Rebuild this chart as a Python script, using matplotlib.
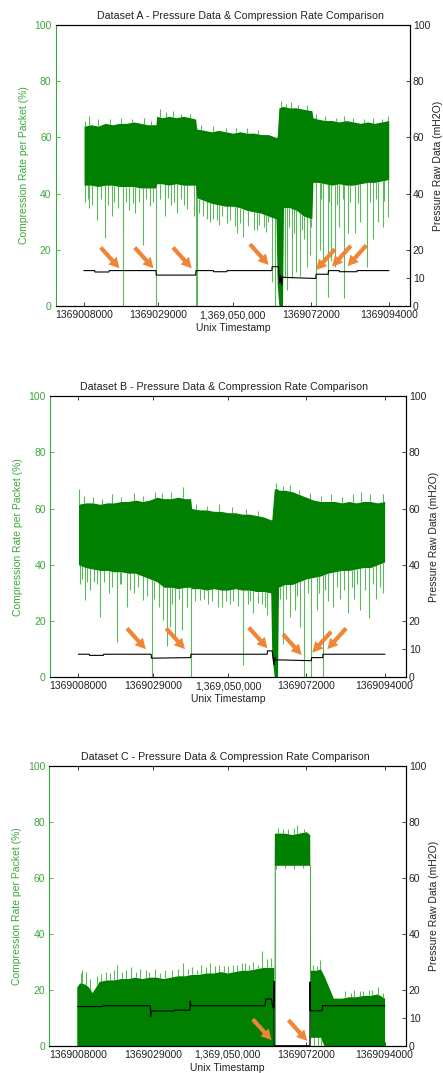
import numpy as np
import matplotlib
matplotlib.use('Agg')
import matplotlib.pyplot as plt

plt.rcParams['font.family'] = ['Liberation Sans', 'DejaVu Sans']
plt.rcParams['font.size'] = 7.5

T0 = 1369000000  # times below are in thousands of seconds after T0
xtick_vals = [1369008000, 1369029000, 1369050000, 1369072000, 1369094000]
xtick_labels = ['1369008000', '1369029000', '1,369,050,000', '1369072000', '1369094000']
left_ticks = [0, 20, 40, 60, 80, 100]
right_ticks = [0, 10, 20, 40, 60, 80, 100]

# ---------------- Dataset A ----------------
A_env_t = [8, 10, 12, 14, 16, 18, 20, 22, 24, 26, 28.3, 28.5, 30, 32, 34, 36, 38, 39.5, 39.8,
           42, 44, 46, 48, 50, 52, 54, 56, 58, 60, 62.2, 62.5, 63.0, 64.0, 64.3, 66, 68, 70,
           72.3, 72.6, 74, 76, 78, 80, 82, 84, 86, 88, 90, 92, 94]
A_hi = [64, 64.5, 64, 65, 64.5, 65, 65, 65.5, 65, 64.5, 64.5, 67.5, 67, 67.5, 67, 67.5, 67, 66.5, 63,
        62.5, 62, 62.5, 62, 61.5, 62, 61.5, 61.5, 61, 61, 60, 60, 70.5, 71, 71, 70.5, 70.5, 70,
        69.5, 67, 66.5, 66, 66, 65.5, 66, 65.5, 65, 65.5, 65, 65.5, 66]
A_lo = [43, 43, 42.5, 43, 43, 42.5, 42.5, 42.5, 42, 42, 42, 43.5, 43.5, 43, 43.5, 43, 43, 43, 38.5,
        37.5, 36.5, 36, 35.5, 35.5, 35, 34, 33.5, 33, 32, 31, 8, 0, 0, 35, 35, 34, 32,
        31, 44, 44, 43.5, 43, 43.5, 43, 43, 43.5, 44, 44, 44.5, 45]
A_up_t = [8.2, 9.5, 12, 15.3, 18.5, 21.5, 25, 27, 29.5, 31, 33, 35.5, 38, 41, 44.5, 48, 51, 54, 57,
          63.5, 65, 66.5, 68.5, 71, 73.5, 76, 79, 81.5, 84, 87, 89.5, 92, 93.8]
A_up_v = [66, 67.5, 66.5, 66.5, 67, 66.5, 67, 66, 70, 69, 69.5, 68.5, 68.5, 64.5, 64, 63.5, 63.5, 63.5, 62.5,
          73, 72, 72.5, 71.5, 71.5, 68.5, 67.5, 67, 67.5, 67, 66.5, 67, 66.5, 67.5]
A_dn_t = [8.2, 9.0, 9.5, 10.3, 11.6, 12.8, 13.9, 14.8, 15.8, 16.5, 17.5, 18.9, 19.1, 19.8, 20.8,
          21.7, 22.5, 23.5, 24.7, 25.6, 26.6, 27.5, 28.3, 29.5, 30.9, 31.7, 32.5, 33.3, 34.2, 35.5,
          36.3, 37, 38.9, 39.5, 39.8, 40.5, 41.7, 42.6, 43.5, 44.3, 45.5, 46.2, 47, 48.3, 49.3,
          50.7, 51.1, 52.1, 53, 54.2, 55.9, 56.8, 57.5, 58.8, 59.4, 60, 61, 61.8, 62, 64.8, 65.4,
          65.8, 66.6, 67.2, 67.9, 68.9, 69.5, 70.2, 70.8, 71.8, 72, 73.5, 74.5, 75, 75.5, 76.8,
          77, 77.8, 78.9, 79.5, 80, 81, 81.4, 82.5, 83.2, 84.4, 85.3, 86, 87.9, 88.7, 89.5, 90.3,
          91, 92.5, 92.8, 93.8]
A_dn_v = [37, 38, 35, 36, 30.5, 38, 24.2, 36, 32, 37, 35, 26, 0, 37, 34,
          36.5, 33, 37, 21.7, 38, 35.5, 37, 0, 38, 32, 38.5, 36, 37, 33, 38,
          36, 34.4, 32, 0, 0, 33, 32, 31, 30, 31, 30.6, 29, 32, 29.4, 30.5,
          28.3, 26, 29.5, 24.5, 28.5, 27, 27, 29, 28, 26.5, 30, 8.6, 0, 20, 10, 5.7,
          28, 10, 26, 12, 10.7, 27, 24, 14, 18, 28, 0, 20, 38, 15, 3.3,
          37, 16, 14, 36, 28, 38, 2.8, 26, 37, 26, 36.5, 30, 14, 37, 24, 38,
          30, 28, 37.5, 31.8]
A_p_t = [8, 11, 11.1, 15, 15.1, 28.3, 28.4, 39.5, 39.6, 44.5, 44.6, 48.3, 48.4, 61, 61.1,
         62.9, 63.0, 63.3, 63.5, 63.8, 64.0, 64.3, 73.4, 73.5, 76.9, 77.0, 80, 80.1, 85, 85.1, 94]
A_p_v = [12.6, 12.6, 12.1, 12.1, 12.6, 12.6, 11.0, 11.0, 12.6, 12.6, 12.2, 12.2, 12.6, 12.6, 14.0,
         14.0, 10.5, 8, 11, 7.5, 10.5, 10.2, 9.8, 11.3, 11.3, 12.6, 12.6, 12.2, 12.2, 12.6, 12.6]
A_arrow_t = [18.0, 27.6, 38.4, 60.1, 73.5, 78.0, 82.4]
A_arrow_v = [13.4, 13.4, 13.4, 14.6, 12.8, 14.0, 14.2]
A_arrow_side = [-1, -1, -1, -1, 1, 1, 1]

# ---------------- Dataset B ----------------
B_env_t = [8, 10, 12, 14, 16, 18, 20, 22, 24, 26, 28, 30, 32, 34, 36, 38, 39.5, 39.8,
           42, 44, 46, 48, 50, 52, 54, 56, 58, 60, 62.0, 62.3, 63.0, 63.9, 64.2,
           66, 68, 70, 72, 74, 76, 78, 80, 82, 84, 86, 88, 90, 92, 94]
B_hi = [61.5, 62, 62, 61.5, 62, 62, 62.5, 62.5, 63, 62.5, 63, 64, 63.5, 63.5, 64, 63.5, 63.5, 60,
        59.5, 59.5, 59, 59, 58.5, 58.5, 58, 58, 57.5, 57, 56, 56, 67, 67, 66.5,
        66.5, 66, 65, 64, 63, 62.5, 62.5, 62.5, 62, 62.5, 62, 62.5, 62.5, 62, 62.5]
B_lo = [40, 39, 38.5, 38, 38, 37.5, 37.5, 37, 37, 36, 35, 34, 32, 32, 31.5, 32, 32, 31.5,
        31.5, 31, 31.5, 31, 31, 31.5, 31, 31, 30.5, 30.5, 30, 8, 0, 0, 32,
        33, 33, 34, 35, 35.5, 36, 37, 37.5, 38, 38, 38.5, 39, 39, 40, 41]
B_up_t = [8.2, 9.5, 12, 14.5, 17.5, 20, 23.5, 26, 29.5, 31.5, 34, 37.3, 41, 44, 47.5, 51, 55, 58.5,
          63.5, 65.5, 67.5, 70, 73, 76, 79, 82, 85, 87.5, 90, 93.5]
B_up_v = [67, 64.5, 64, 63.5, 65, 64, 65.5, 64.5, 66, 65.5, 66, 67.7, 61.5, 61, 61.5, 60.5, 60, 59,
          69, 68, 68.5, 66.5, 65.5, 64.5, 65, 64, 65, 66, 65, 65]
B_dn_t = [8.5, 9.0, 9.8, 10.5, 11.2, 12.5, 13.2, 14, 15.3, 16.5, 17.3, 18.9, 19.6, 20, 21.5, 22.4,
          23.5, 24.8, 26.2, 27.2, 28.6, 29.3, 30.5, 31.8, 32.8, 33.7, 34.4, 35.1, 36.2, 37, 38.5,
          39.5, 40.7, 42.1, 43.2, 44.5, 45.6, 47.3, 48.4, 49.5, 50.5, 51.5, 52.8, 54.1, 55.5,
          56.3, 57.1, 58.3, 59.5, 60.3, 61, 63.2, 64.7, 65.5, 66.4, 67.4, 68.8, 69.5, 70.2, 71.4,
          72.5, 73.3, 74.9, 75.6, 76.6, 77.2, 78, 79.6, 80.5, 81.5, 82.6, 83.8, 84.7, 85.5, 86.3,
          87.1, 88.4, 89.7, 90.6, 91.5, 92.6, 93.6]
B_dn_v = [33, 35, 27.5, 34, 31, 34, 33, 21.6, 34, 30, 32, 12.7, 33, 33, 25, 31,
          30, 32, 27.5, 29, 0, 28, 25, 20.4, 11, 18, 26, 14.5, 28, 16.8, 25,
          0, 27, 27.5, 28, 26, 27, 25, 25, 27, 26, 27, 25.5, 4.4, 26,
          27, 22.7, 26.5, 26, 25, 22, 0, 28, 12, 28, 21.6, 24, 29, 18, 0,
          30, 0, 24, 30, 0, 31, 27, 25, 32, 28, 31, 22.7, 32, 28, 33,
          24, 31, 21, 33, 28, 32, 30]
B_p_t = [8, 11, 11.1, 15, 15.1, 28.4, 28.5, 39.5, 39.6, 61.0, 61.1, 62.4, 62.6, 62.9, 63.2, 63.5,
         64.0, 73.4, 73.5, 76.6, 76.7, 94]
B_p_v = [8.2, 8.2, 7.8, 7.8, 8.2, 8.2, 6.8, 7.0, 8.2, 8.2, 9.4, 9.4, 7.5, 4.5, 7.0, 6.0,
         6.2, 5.9, 7.0, 7.0, 8.2, 8.2]
B_arrow_t = [26.9, 37.9, 61.1, 70.7, 73.7, 77.9]
B_arrow_v = [10.0, 10.0, 10.3, 7.9, 8.8, 10.0]
B_arrow_side = [-1, -1, -1, -1, 1, 1]

# ---------------- Dataset C ----------------
C_env_t = [7.7, 8.5, 10, 11, 12, 13, 14, 16, 18, 20, 22, 24, 26, 28, 30, 32, 34, 36, 38, 40, 42,
           44, 46, 48, 50, 52, 54, 56, 58, 60, 62, 62.9, 63.1, 64, 66, 68, 70, 72, 73.0, 73.2,
           74, 75, 76, 77, 78, 79, 79.6, 80.5, 82, 84, 86, 88, 90, 92, 94]
C_hi = [21, 22.5, 22, 21, 19, 21, 23, 23.5, 23.5, 24, 24, 24.5, 24, 24.5, 24.5, 24, 24.5, 25, 25,
        25.5, 25.5, 26, 26, 26.5, 26, 26.5, 27, 27, 27.5, 28, 28, 28, 76, 76, 76, 75.5, 76, 76.5,
        75.5, 27, 27, 27, 27.5, 25, 22, 19, 17, 17, 17, 17.5, 17.5, 18, 18, 18.5, 17]
C_lo = [0] * 32 + [64.5] * 7 + [3, 3, 3, 3] + [0] * 12
C_up_t = [8.8, 9.3, 10.2, 11.5, 13.5, 14.5, 16, 17, 18, 19, 20.5, 21.5, 23, 24.2, 25.5, 27, 28,
          29.5, 31, 32.5, 34.5, 36, 37.6, 39, 40, 41.5, 42.5, 44, 45, 46.5, 47.5, 49, 50, 51.5,
          52.5, 54, 55, 56, 57, 58.5, 59.7, 61, 62.2, 64, 65.5, 67, 68.5, 69.5, 71.5, 74, 75,
          76, 83, 84.5, 85.5, 87, 88, 89.5, 90.5, 92.2, 93.5]
C_up_v = [26, 27, 26.5, 24, 25, 25.5, 26.5, 26, 27, 29, 26.5, 27, 28, 26.5, 27.5, 27, 26.5,
          27.5, 26, 27, 27, 27.5, 29.4, 27.5, 28, 27, 29, 28, 29.5, 28.5, 29, 28.5, 28.5, 29,
          29, 29.5, 29.5, 29, 30, 29, 34, 31, 31.5, 78, 77.5, 77.5, 78, 79, 77.5, 29, 28.5,
          30.6, 19.5, 19, 20, 19.5, 19.5, 20, 20, 21, 19]
C_dn_t = [63.2, 63.5, 66, 68.5, 71, 72.95, 74.2, 75.4, 76.3, 80.8]
C_dn_v = [0, 63, 63.5, 63, 63.5, 0, 0, 0, 0, 5]
C_p_t = [8, 15, 15.1, 28.3, 28.4, 28.6, 35, 35.1, 39.4, 39.5, 39.7, 58, 60.5, 60.7, 62.3, 62.6,
         62.9, 63.0, 63.05, 73.05, 73.1, 73.15, 73.3, 76.5, 76.6, 94]
C_p_v = [14.0, 14.0, 14.3, 14.3, 10.4, 12.4, 12.4, 12.7, 12.7, 16, 14.3, 14.3, 14.3, 16.7, 16.7, 14,
         13.5, 23, 0, 0, 22.8, 12.5, 12.5, 12.5, 14.3, 14.3]
C_arrow_t = [62.3, 72.3]
C_arrow_v = [2.0, 1.7]
C_arrow_side = [-1, -1]

GREEN = '#007f00'
LIGHT = '#5cb85c'
AXGREEN = '#3aa83a'
ORANGE = '#ef8535'
W, H = 443, 1073


def ts(k):
    return T0 + np.asarray(k, dtype=float) * 1000


def panel(rect, title, title_x, env_t, hi, lo, up_t, up_v, dn_t, dn_v,
          p_t, p_v, ar_t, ar_v, ar_side, top_ticks):
    l, t, r, b = rect
    ax = fig.add_axes([l / W, 1 - b / H, (r - l) / W, (b - t) / H])
    x = ts(env_t)
    ax.fill_between(x, lo, hi, color=GREEN, lw=0, zorder=2)
    # spikes above and below the dense band
    ax.vlines(ts(up_t), np.interp(up_t, env_t, hi), up_v, color=LIGHT, lw=0.8, zorder=1)
    ax.vlines(ts(dn_t), np.interp(dn_t, env_t, lo), dn_v, color=LIGHT, lw=0.8, zorder=1)

    ax.set_xlim(T0, T0 + 100000)
    ax.set_ylim(0, 100)
    ax.set_xticks(xtick_vals)
    ax.set_xticklabels(xtick_labels)
    ax.set_yticks(left_ticks)
    ax.tick_params(axis='x', direction='in', length=3, width=0.6, pad=3, colors='#222222',
                   top=top_ticks)
    ax.tick_params(axis='y', direction='in', length=3, width=0.6, pad=3, colors=AXGREEN)
    ax.spines['left'].set_color(AXGREEN)
    for s in ['top', 'bottom', 'right']:
        ax.spines[s].set_color('#222222')
    for s in ax.spines.values():
        s.set_linewidth(0.8)
    ax.set_ylabel('Compression Rate per Packet (%)', color=AXGREEN, labelpad=4)
    ax.set_xlabel('Unix Timestamp', color='#222222', labelpad=2)
    ax.set_title(title, x=title_x, pad=4, color='#222222', fontsize=7.7)

    ax2 = ax.twinx()
    ax2.plot(ts(p_t), p_v, color='black', lw=0.8, zorder=3)
    ax2.set_ylim(0, 100)
    ax2.set_yticks(right_ticks)
    ax2.tick_params(axis='y', direction='in', length=3, width=0.6, pad=2, colors='#222222')
    ax2.spines['left'].set_visible(False)
    for s in ax2.spines.values():
        s.set_linewidth(0.8)
    ax2.set_ylabel('Pressure Raw Data (mH2O)', color='#222222', labelpad=2)

    for at, av, side in zip(ar_t, ar_v, ar_side):
        ax2.annotate('', xy=(ts(at), av), xytext=(side * 13.5, 15), textcoords='offset points',
                     arrowprops=dict(arrowstyle='simple,head_length=0.75,head_width=0.8,tail_width=0.3',
                                     color=ORANGE, lw=0, shrinkA=0, shrinkB=0, mutation_scale=10))
    return ax


fig = plt.figure(figsize=(W / 100, H / 100), dpi=100)
panel((55.7, 25, 410, 306), 'Dataset A - Pressure Data & Compression Rate Comparison', 0.523,
      A_env_t, A_hi, A_lo, A_up_t, A_up_v, A_dn_t, A_dn_v, A_p_t, A_p_v,
      A_arrow_t, A_arrow_v, A_arrow_side, False)
panel((50, 396, 406, 677.3), 'Dataset B - Pressure Data & Compression Rate Comparison', 0.489,
      B_env_t, B_hi, B_lo, B_up_t, B_up_v, B_dn_t, B_dn_v, B_p_t, B_p_v,
      B_arrow_t, B_arrow_v, B_arrow_side, True)
panel((49.3, 766, 406, 1045.7), 'Dataset C - Pressure Data & Compression Rate Comparison', 0.4926,
      C_env_t, C_hi, C_lo, C_up_t, C_up_v, C_dn_t, C_dn_v, C_p_t, C_p_v,
      C_arrow_t, C_arrow_v, C_arrow_side, True)

fig.savefig('out.png', dpi=100)
